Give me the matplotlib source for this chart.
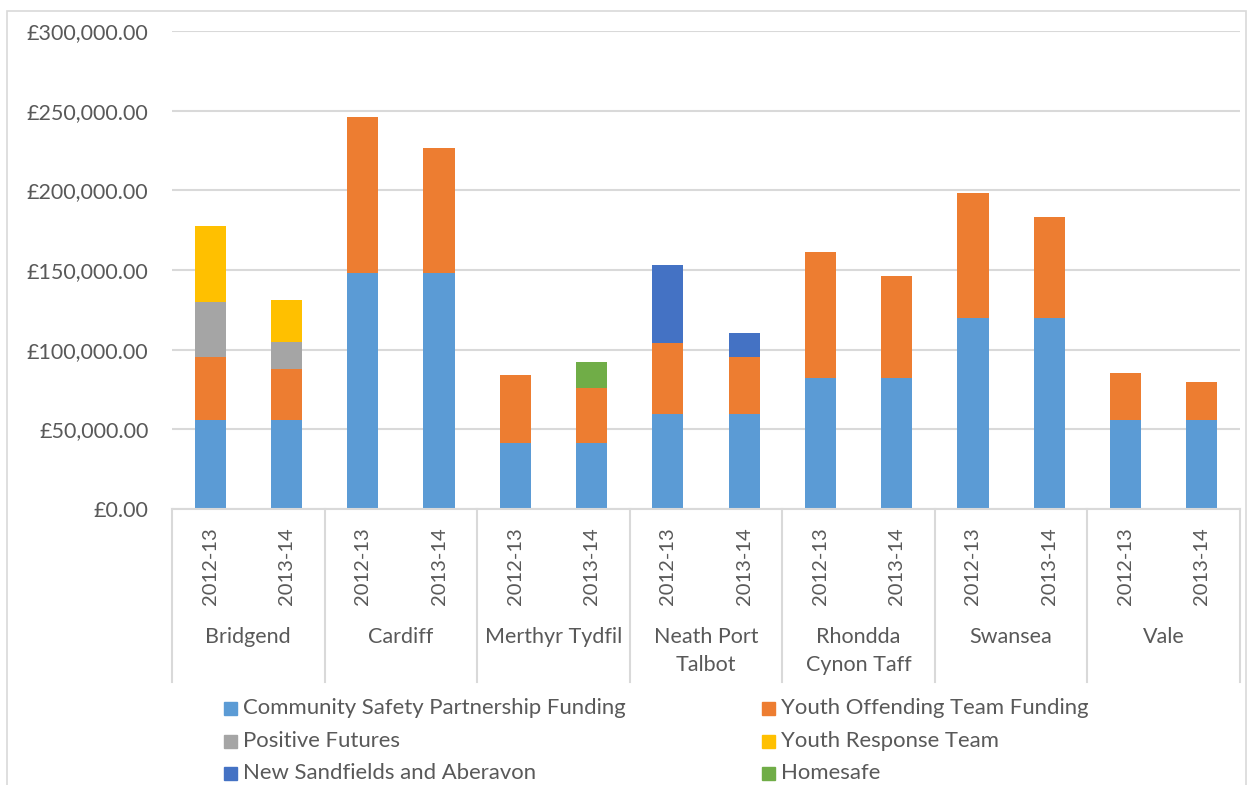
import matplotlib
matplotlib.use("Agg")
import matplotlib.pyplot as plt
import matplotlib.transforms as mtransforms
from matplotlib.patches import Rectangle
import numpy as np

plt.rcParams['font.family'] = ['Lato', 'DejaVu Sans']

groups = ["Bridgend", "Cardiff", "Merthyr Tydfil", "Neath Port\nTalbot",
          "Rhondda\nCynon Taff", "Swansea", "Vale"]
years = ["2012-13", "2013-14"]

series_names = ["Community Safety Partnership Funding", "Youth Offending Team Funding",
                "Positive Futures", "Youth Response Team",
                "New Sandfields and Aberavon", "Homesafe"]
colors = ["#5B9BD5", "#ED7D31", "#A5A5A5", "#FFC000", "#4472C4", "#70AD47"]

# values per bar (Bridgend 12-13, Bridgend 13-14, Cardiff 12-13, ...)
csp = [56000, 56000, 148400, 148400, 41200, 41200, 59600, 59600, 82000, 82000, 119800, 119800, 55900, 55900]
yot = [39100, 31600, 97400, 77900, 42800, 34700, 44300, 35700, 79600, 64300, 78300, 63300, 29400, 23700]
positive = [35000, 17300, 0, 0, 0, 0, 0, 0, 0, 0, 0, 0, 0, 0]
yrt = [47400, 26300, 0, 0, 0, 0, 0, 0, 0, 0, 0, 0, 0, 0]
sandfields = [0, 0, 0, 0, 0, 0, 49500, 14900, 0, 0, 0, 0, 0, 0]
homesafe = [0, 0, 0, 0, 0, 16300, 0, 0, 0, 0, 0, 0, 0, 0]

yticks = [0, 50000, 100000, 150000, 200000, 250000, 300000]

W, H = 1253, 785
fig = plt.figure(figsize=(W / 100, H / 100), dpi=100)
ax_left, ax_right, ax_top, ax_bot = 172, 1240, 31, 509
ax = fig.add_axes([ax_left / W, 1 - ax_bot / H, (ax_right - ax_left) / W, (ax_bot - ax_top) / H])

grid_c = "#D9D9D9"
text_c = "#595959"

x = np.arange(len(csp))
bottom = np.zeros(len(csp))
for vals, c in zip([csp, yot, positive, yrt, sandfields, homesafe], colors):
    v = np.array(vals, dtype=float)
    ax.bar(x, v, width=0.41, bottom=bottom, color=c, zorder=3, linewidth=0)
    bottom += v

ax.set_xlim(-0.5, len(csp) - 0.5)
ax.set_ylim(0, 300000)
ax.set_yticks(yticks)
ax.set_yticklabels(["£{:,.2f}".format(t) for t in yticks], color=text_c, fontsize=15.5)
ax.tick_params(axis='y', length=0, pad=17)
ax.set_xticks([])
ax.yaxis.grid(True, color=grid_c, linewidth=1.5, zorder=0)
for s in ['left', 'right', 'top']:
    ax.spines[s].set_visible(False)
ax.spines['bottom'].set_color(grid_c)
ax.spines['bottom'].set_linewidth(1.5)
ax.spines['bottom'].set_zorder(4)

axh = ax_bot - ax_top
trans = mtransforms.blended_transform_factory(ax.transData, ax.transAxes)

def ay(py):
    return (ax_bot - py) / axh

# year labels
for i in range(len(csp)):
    ax.text(i, ay(566), years[i % 2], rotation=90, ha='center', va='center',
            transform=trans, color=text_c, fontsize=14.5, clip_on=False)

# group labels
for g, name in enumerate(groups):
    ax.text(2 * g + 0.5, ay(627), name, ha='center', va='top', transform=trans,
            color=text_c, fontsize=15.5, linespacing=1.5, clip_on=False)

# separators
for b in np.arange(-0.5, len(csp), 2):
    ax.plot([b, b], [0, ay(682)], color=grid_c, linewidth=1.5, transform=trans,
            clip_on=False, zorder=4)

# legend (manual)
rows = [708, 741, 773]
cols = [(224, 243), (762, 781)]
order = [[0, 2, 4], [1, 3, 5]]
for ci, (mx, tx) in enumerate(cols):
    for ri, py in enumerate(rows):
        idx = order[ci][ri]
        fig.patches.append(Rectangle((mx / W, 1 - (py + 6.5) / H), 13 / W, 13 / H,
                                     transform=fig.transFigure, color=colors[idx]))
        fig.text(tx / W, 1 - py / H, series_names[idx], ha='left', va='center',
                 color=text_c, fontsize=15.9)

# outer border
fig.patches.append(Rectangle((7 / W, -0.01), (1246 - 7) / W, 1 - 11 / H + 0.01,
                             transform=fig.transFigure, fill=False,
                             edgecolor=grid_c, linewidth=1.2))

fig.savefig("out.png", dpi=100)
